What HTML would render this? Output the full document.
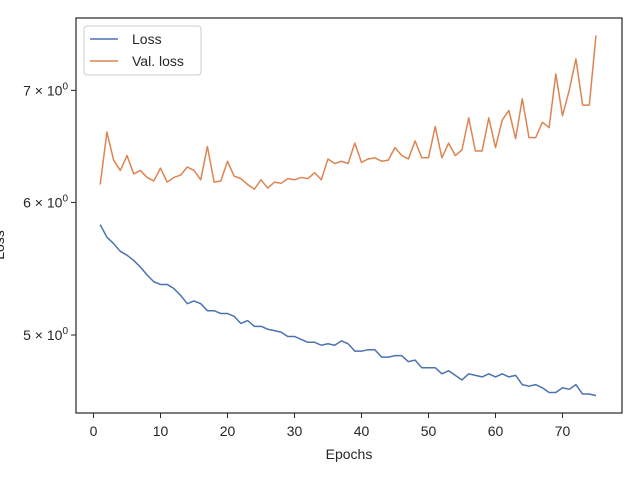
<!DOCTYPE html>
<html><head><meta charset="utf-8"><style>
body{margin:0;background:#fff;}
svg text{font-family:"Liberation Sans","DejaVu Sans",sans-serif;fill:#262626;}
</style></head><body>
<svg id="chart" width="640" height="480" xmlns="http://www.w3.org/2000/svg">
<rect x="0" y="0" width="640" height="480" fill="#fff"/>
<g id="marks"></g>
<rect x="76" y="18" width="546" height="395" fill="none" stroke="#262626" stroke-width="1.2"/>
<g id="xticks"></g><g id="yticks"></g>
<text x="349" y="459" font-size="14" text-anchor="middle">Epochs</text>
<text transform="translate(4,245) rotate(-90)" font-size="14" text-anchor="middle">Loss</text>
<g>
<rect x="84" y="26" width="117" height="49" rx="3" fill="#fff" fill-opacity="0.8" stroke="#ccc"/>
<line x1="90" y1="39" x2="118" y2="39" stroke="#4c72b0" stroke-width="1.5"/>
<text x="132" y="44" font-size="14">Loss</text>
<line x1="90" y1="61" x2="118" y2="61" stroke="#dd8452" stroke-width="1.5"/>
<text x="132" y="66" font-size="14">Val. loss</text>
</g>
</svg>
<script>
const epochs = Array.from({length:75},(_, i)=>i+1);
const lossValues = [5.82,5.72,5.67,5.61,5.58,5.54,5.49,5.43,5.38,5.36,5.36,5.33,5.28,5.22,5.24,5.22,5.17,5.17,5.15,5.15,5.13,5.08,5.10,5.06,5.06,5.04,5.03,5.02,4.99,4.99,4.97,4.95,4.95,4.93,4.94,4.93,4.96,4.94,4.89,4.89,4.90,4.90,4.85,4.85,4.86,4.86,4.82,4.83,4.78,4.78,4.78,4.74,4.76,4.73,4.70,4.74,4.73,4.72,4.74,4.72,4.74,4.72,4.73,4.67,4.66,4.67,4.65,4.62,4.62,4.65,4.64,4.67,4.61,4.61,4.60];
const valLossValues = [6.15,6.61,6.36,6.27,6.40,6.24,6.27,6.21,6.18,6.29,6.17,6.21,6.23,6.30,6.27,6.19,6.48,6.17,6.18,6.35,6.22,6.20,6.15,6.11,6.19,6.12,6.17,6.16,6.20,6.19,6.21,6.20,6.25,6.19,6.37,6.33,6.35,6.33,6.51,6.34,6.37,6.38,6.35,6.36,6.47,6.40,6.37,6.53,6.38,6.38,6.66,6.38,6.51,6.40,6.45,6.74,6.44,6.44,6.74,6.47,6.72,6.81,6.55,6.92,6.56,6.56,6.70,6.65,7.16,6.76,7.00,7.31,6.86,6.86,7.55];
const xTickValues = [0,10,20,30,40,50,60,70];
const yTickValues = [5,6,7];
const yTickLabels = ["5","6","7"];

const NS="http://www.w3.org/2000/svg";
const xs = v => 93.5 + v*6.7;
const ys = v => 335 - 727*Math.log(v/5);
function mk(tag, attrs, parent){const e=document.createElementNS(NS,tag);for(const k in attrs)e.setAttribute(k,attrs[k]);parent.appendChild(e);return e;}
const marks=document.getElementById('marks');
function line(vals,color,name){
  const d=vals.map((v,i)=>(i?'L':'M')+xs(epochs[i]).toFixed(2)+','+ys(v).toFixed(2)).join('');
  const p=mk('path',{d:d,fill:'none',stroke:color,'stroke-width':1.5,'stroke-linejoin':'round'},marks);
  
  
}
line(lossValues,'#4c72b0','loss-line');
line(valLossValues,'#dd8452','val-loss-line');
const xg=document.getElementById('xticks');
xTickValues.forEach(v=>{
  const x=xs(v);
  const t=mk('line',{x1:x,x2:x,y1:413,y2:418,stroke:'#262626','stroke-width':1},xg);
  
  
  const l=mk('text',{x:x,y:436,'font-size':14,'text-anchor':'middle'},xg);
  l.textContent=v;
  
  
});
const yg=document.getElementById('yticks');
yTickValues.forEach((v,i)=>{
  const y=ys(v);
  const t=mk('line',{x1:71,x2:76,y1:y,y2:y,stroke:'#262626','stroke-width':1},yg);
  
  
  const l=mk('text',{x:68,y:y+5,'font-size':14,'text-anchor':'end'},yg);
  
  
  l.innerHTML=yTickLabels[i]+' × 10<tspan dy="-6" font-size="10">0</tspan>';
});
</script>
</body></html>
